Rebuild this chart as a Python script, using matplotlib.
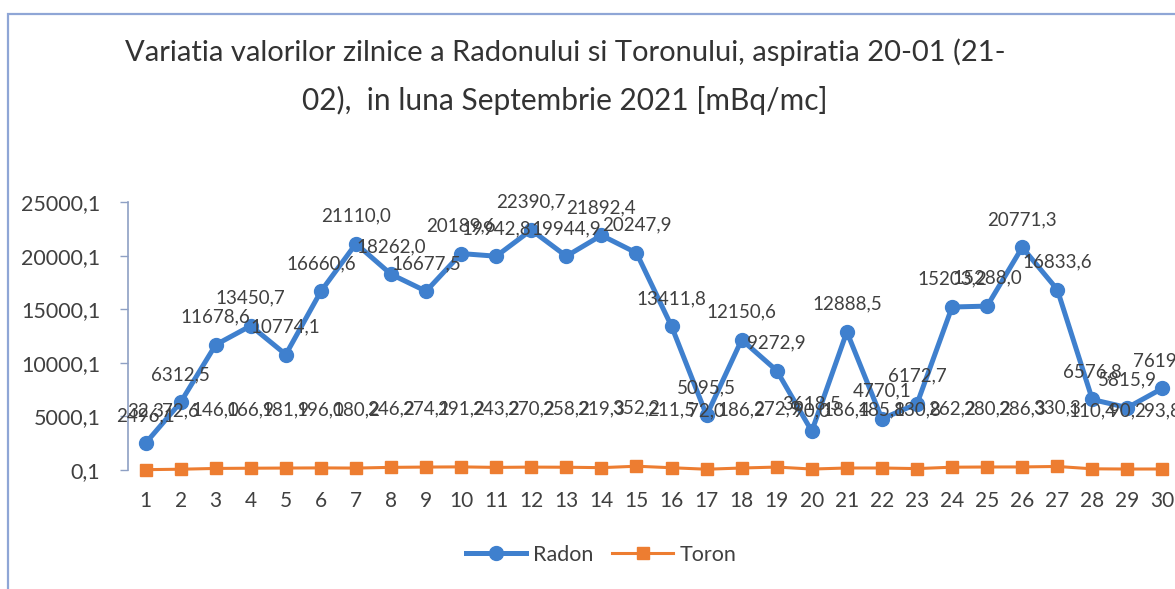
import matplotlib
matplotlib.use("Agg")
import matplotlib.pyplot as plt
from matplotlib.patches import Rectangle

days = list(range(1, 31))
radon = [2496.1, 6312.5, 11678.6, 13450.7, 10774.1, 16660.6, 21110.0, 18262.0, 16677.5, 20189.6,
         19942.8, 22390.7, 19944.9, 21892.4, 20247.9, 13411.8, 5095.5, 12150.6, 9272.9, 3618.5,
         12888.5, 4770.1, 6172.7, 15203.2, 15288.0, 20771.3, 16833.6, 6576.8, 5815.9, 7619.0]
toron = [32.3, 72.6, 146.0, 166.9, 181.9, 196.0, 180.2, 246.2, 274.1, 291.2,
         243.2, 270.2, 258.2, 219.3, 352.2, 211.5, 72.0, 186.2, 272.9, 90.0,
         186.4, 185.8, 130.8, 262.2, 280.2, 286.3, 330.3, 110.4, 90.2, 93.8]
yticks = [0.1, 5000.1, 10000.1, 15000.1, 20000.1, 25000.1]
title1 = "Variatia valorilor zilnice a Radonului si Toronului, aspiratia 20-01 (21-"
title2 = "02),  in luna Septembrie 2021 [mBq/mc]"

FONT = ["Lato", "DejaVu Sans"]
plt.rcParams['font.family'] = FONT
TXT = "#404040"
BLUE = "#3F80CE"
ORANGE = "#ED7D31"

W, H = 1175, 589
fig = plt.figure(figsize=(W / 100, H / 100), dpi=100)
fig.patch.set_facecolor("white")

# chart frame
fig.patches.append(Rectangle((8 / W, -0.05), 1.2, (H - 14) / H + 0.05, transform=fig.transFigure,
                             fill=False, edgecolor="#8FA6D6", linewidth=1.6))

ax = fig.add_axes([128 / W, (H - 470) / H, (1180 - 128) / W, (470 - 202) / H])
ax.set_facecolor("none")

fmt = lambda v: f"{v:.1f}".replace(".", ",")

ax.plot(days, radon, color=BLUE, lw=3.6, marker="o", ms=10, label="Radon", clip_on=False, zorder=3)
ax.plot(days, toron, color=ORANGE, lw=2.2, marker="s", ms=8.5, label="Toron", clip_on=False, zorder=3)

for d, v in zip(days, radon):
    ax.annotate(fmt(v), (d, v), xytext=(0, 20), textcoords="offset points", ha="center", va="center",
                fontsize=13.5, color=TXT, zorder=4)
for d, v in zip(days, toron):
    ax.annotate(fmt(v), (d, v), xytext=(0, 42), textcoords="offset points", ha="center", va="center",
                fontsize=13.5, color=TXT, zorder=4)

ax.set_xlim(0.5, 30.5)
ax.set_ylim(yticks[0], yticks[-1])
ax.set_xticks(days)
ax.set_xticklabels([str(d) for d in days])
ax.set_yticks(yticks)
ax.set_yticklabels([fmt(t) for t in yticks])
ax.tick_params(axis="x", length=0, pad=15, labelsize=15, labelcolor=TXT)
ax.tick_params(axis="y", length=6, width=1, color="#8EA0C4", pad=14, labelsize=15.5, labelcolor=TXT)
for s in ["top", "right", "bottom"]:
    ax.spines[s].set_visible(False)
ax.spines["left"].set_color("#8EA0C4")
ax.spines["left"].set_linewidth(1.2)

fig.text(565 / W, 1 - 52 / H, title1, ha="center", va="center", fontsize=21, color="#333333")
fig.text(565 / W, 1 - 100 / H, title2, ha="center", va="center", fontsize=21.5, color="#333333")

leg = fig.legend(loc="center", bbox_to_anchor=(601 / W, 1 - 555 / H), ncol=2, frameon=False,
                 fontsize=15.5, handlelength=2.8, columnspacing=0.9, handletextpad=0.3)
for t in leg.get_texts():
    t.set_color(TXT)

fig.savefig("out.png", dpi=100, facecolor="white")
